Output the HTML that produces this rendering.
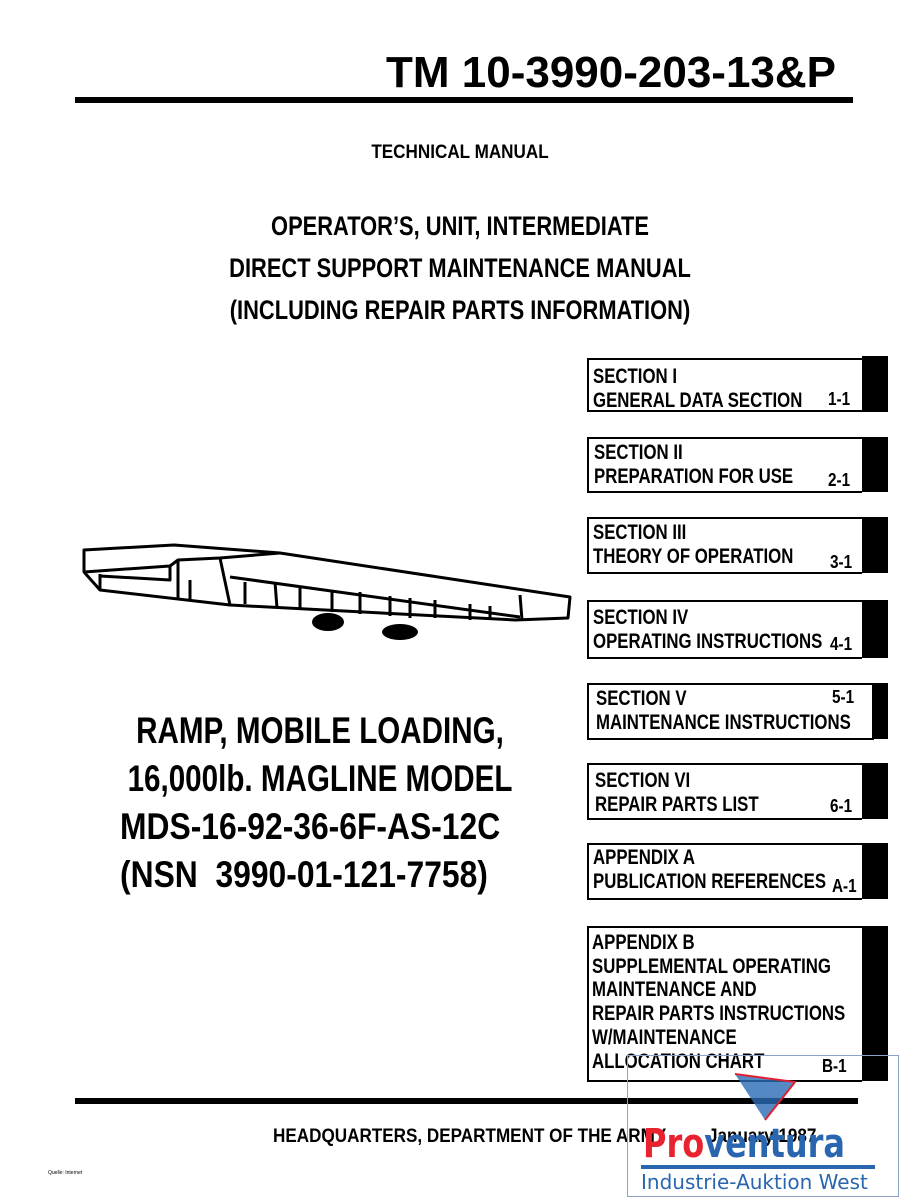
<!DOCTYPE html>
<html><head><meta charset="utf-8"><style>
body{margin:0;background:#fff;}
#p{position:relative;width:900px;height:1200px;overflow:hidden;background:#fff;font-family:"Liberation Sans",sans-serif;font-weight:bold;color:#000;}
.t{position:absolute;white-space:nowrap;}
.c{transform-origin:center;}
.box{position:absolute;left:587px;width:273px;border:2px solid #000;border-right:none;background:#fff;}
.bar{position:absolute;background:#000;width:26px;}
.bx{position:absolute;font-size:21px;line-height:24px;white-space:nowrap;transform:scaleX(.8);transform-origin:left top;}
.pg{position:absolute;font-size:18px;white-space:nowrap;transform:scaleX(.85);transform-origin:left top;}
</style></head><body><div id="p">
<div class="t" style="left:386px;top:48px;font-size:44px;">TM 10-3990-203-13&amp;P</div>
<div style="position:absolute;left:75px;top:97px;width:778px;height:6px;background:#000"></div>
<div class="t c" style="left:0;width:920px;text-align:center;top:142px;font-size:19px;transform:scaleX(.9)">TECHNICAL MANUAL</div>
<div class="t c" style="left:0;width:920px;text-align:center;top:205px;font-size:27px;line-height:42px;transform:scaleX(.81)">OPERATOR’S, UNIT, INTERMEDIATE<br>DIRECT SUPPORT MAINTENANCE MANUAL<br>(INCLUDING REPAIR PARTS INFORMATION)</div>

<div class="box" style="top:358px;height:50px"></div><div class="bar" style="left:862px;top:356px;height:56px"></div>
<div class="bx" style="left:593px;top:365px">SECTION I<br>GENERAL DATA SECTION</div><div class="pg" style="left:828px;top:389px">1-1</div>

<div class="box" style="top:437px;height:52px"></div><div class="bar" style="left:862px;top:437px;height:55px"></div>
<div class="bx" style="left:594px;top:441px">SECTION II<br>PREPARATION FOR USE</div><div class="pg" style="left:828px;top:470px">2-1</div>

<div class="box" style="top:517px;height:53px"></div><div class="bar" style="left:862px;top:517px;height:56px"></div>
<div class="bx" style="left:593px;top:521px">SECTION III<br>THEORY OF OPERATION</div><div class="pg" style="left:830px;top:552px">3-1</div>

<div class="box" style="top:600px;height:55px"></div><div class="bar" style="left:862px;top:600px;height:58px"></div>
<div class="bx" style="left:593px;top:606px">SECTION IV<br>OPERATING INSTRUCTIONS</div><div class="pg" style="left:830px;top:634px">4-1</div>

<div class="box" style="top:683px;height:53px;width:285px"></div><div class="bar" style="left:872px;top:683px;height:56px;width:16px"></div>
<div class="bx" style="left:596px;top:687px">SECTION V<br>MAINTENANCE INSTRUCTIONS</div><div class="pg" style="left:832px;top:687px">5-1</div>

<div class="box" style="top:763px;height:53px"></div><div class="bar" style="left:862px;top:763px;height:56px"></div>
<div class="bx" style="left:595px;top:769px">SECTION VI<br>REPAIR PARTS LIST</div><div class="pg" style="left:830px;top:796px">6-1</div>

<div class="box" style="top:843px;height:53px"></div><div class="bar" style="left:862px;top:843px;height:56px"></div>
<div class="bx" style="left:593px;top:846px">APPENDIX A<br>PUBLICATION REFERENCES</div><div class="pg" style="left:832px;top:876px">A-1</div>

<div class="box" style="top:926px;height:152px"></div><div class="bar" style="left:862px;top:926px;height:155px"></div>
<div class="bx" style="left:592px;top:931px;line-height:23.7px">APPENDIX B<br>SUPPLEMENTAL OPERATING<br>MAINTENANCE AND<br>REPAIR PARTS INSTRUCTIONS<br>W/MAINTENANCE<br>ALLOCATION CHART</div><div class="pg" style="left:822px;top:1056px">B-1</div>

<svg style="position:absolute;left:70px;top:520px" width="510" height="120" viewBox="0 0 510 120">
<g fill="none" stroke="#000" stroke-width="3" stroke-linejoin="round">
<path d="M14 30 L104 25 L210 33 L500 77 L498 98 L445 100 L160 85 L30 70 L14 52 Z" fill="#fff"/>
<path d="M14 52 L100 46 L108 40 L150 38 L210 33"/>
<path d="M30 54 L30 70 M100 46 L100 60 L30 56"/>
<path d="M150 38 L160 85"/>
<path d="M160 57 L450 97"/>
<path d="M450 75 L452 100"/>
<path d="M108 40 L108 78 M120 60 L120 80"/>
</g>
<g stroke="#000" stroke-width="3">
<line x1="175" y1="62" x2="175" y2="84"/><line x1="205" y1="62" x2="207" y2="88"/><line x1="230" y1="66" x2="230" y2="90"/><line x1="262" y1="70" x2="262" y2="92"/><line x1="290" y1="72" x2="290" y2="94"/><line x1="320" y1="76" x2="320" y2="96"/><line x1="340" y1="78" x2="340" y2="98"/><line x1="365" y1="80" x2="365" y2="98"/><line x1="400" y1="84" x2="400" y2="100"/><line x1="420" y1="86" x2="420" y2="100"/>
</g>
<ellipse cx="258" cy="102" rx="16" ry="9" fill="#000"/><ellipse cx="330" cy="112" rx="18" ry="8" fill="#000"/>
</svg>

<div class="t c" style="left:0;width:640px;text-align:center;top:707px;font-size:37px;line-height:48px;transform:scaleX(.8)">RAMP, MOBILE LOADING,<br>16,000lb. MAGLINE MODEL</div>
<div class="t" style="left:120px;top:803px;font-size:37px;line-height:48px;transform:scaleX(.86);transform-origin:left;">MDS-16-92-36-6F-AS-12C<br>(NSN&nbsp; 3990-01-121-7758)</div>

<div style="position:absolute;left:75px;top:1098px;width:783px;height:6px;background:#000"></div>
<div class="t" style="left:273px;top:1126px;font-size:19px;transform:scaleX(.9);transform-origin:left">HEADQUARTERS, DEPARTMENT OF THE ARMY</div>
<div class="t" style="left:708px;top:1126px;font-size:19px;transform:scaleX(.9);transform-origin:left">January 1987</div>
<div class="t" style="left:48px;top:1170px;font-size:5px;font-weight:normal">Quelle: Internet</div>

<div style="position:absolute;left:627px;top:1055px;width:270px;height:140px;border:1px solid #8aa4c8;"></div>
<svg style="position:absolute;left:730px;top:1072px" width="70" height="50"><polygon points="5,2 65,10 35,48" fill="#2a6bb5" opacity=".8"/><polyline points="5,2 65,10 35,48" fill="none" stroke="#e02030" stroke-width="2"/></svg>
<div class="t" style="left:643px;top:1124px;font-size:40px;font-family:'DejaVu Sans',sans-serif;font-weight:bold;line-height:40px;transform:scaleX(.8);transform-origin:left"><span style="color:#e8222e">Pro</span><span style="color:#2a66b0">ventura</span></div>
<div style="position:absolute;left:641px;top:1165px;width:234px;height:4px;background:#2a66b0"></div>
<div class="t" style="left:641px;top:1170px;font-size:20px;font-weight:normal;color:#2a66b0;font-family:'DejaVu Sans',sans-serif;">Industrie-Auktion West</div>
</div></body></html>
